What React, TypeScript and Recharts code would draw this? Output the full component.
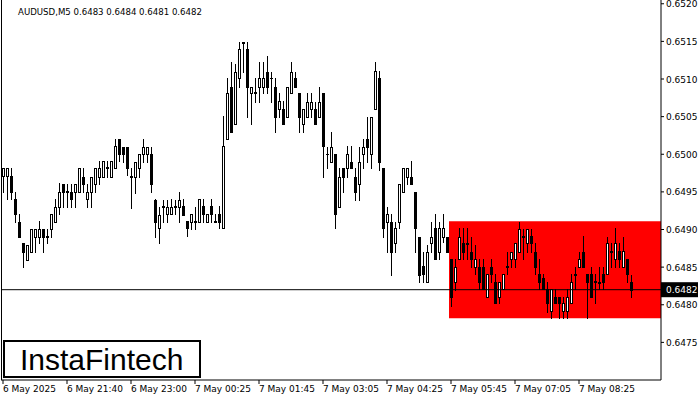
import React from "react";
import { Bar, ComposedChart, Customized, ReferenceArea, ReferenceLine, XAxis, YAxis } from "recharts";

// AUDUSD M5 candles (oldest first)
const opens = [
  0.64971, 0.64971, 0.64971, 0.64941, 0.6491, 0.64882, 0.64859, 0.6487, 0.6489, 0.6489, 0.64901, 0.6489, 0.64901, 0.6491, 0.6493, 0.64961,
  0.6495, 0.6495, 0.6495, 0.6495, 0.6497, 0.64941, 0.6495, 0.64961, 0.6497, 0.6497, 0.64982, 0.6497, 0.64982, 0.6502, 0.6501, 0.6501,
  0.6497, 0.6497, 0.64982, 0.65, 0.65, 0.65, 0.64939, 0.64902, 0.6493, 0.64921, 0.64921, 0.6493, 0.6493, 0.64931, 0.64911, 0.6491,
  0.6491, 0.6491, 0.64931, 0.6491, 0.64931, 0.6491, 0.64921, 0.64902, 0.6502, 0.6509, 0.6504, 0.65102, 0.65149, 0.6514, 0.65082, 0.65082,
  0.6509, 0.6509, 0.65109, 0.65102, 0.6509, 0.6506, 0.6506, 0.6505, 0.65082, 0.65102, 0.65082, 0.6504, 0.6505, 0.6506, 0.6506, 0.6505,
  0.65082, 0.65, 0.6499, 0.65, 0.6493, 0.64982, 0.64982, 0.6499, 0.6497, 0.64961, 0.65, 0.6502, 0.65, 0.6506, 0.65102, 0.64982,
  0.6491, 0.6491, 0.64882, 0.6491, 0.6495, 0.6497, 0.6497, 0.6495, 0.6489, 0.64851, 0.6483, 0.64882, 0.64902, 0.6487, 0.6489, 0.6489,
  0.64861, 0.6483, 0.64861, 0.64882, 0.64882, 0.6487, 0.6485, 0.6485, 0.6485, 0.6481, 0.6485, 0.6483, 0.6481, 0.64821, 0.6485, 0.64861,
  0.64861, 0.6487, 0.64891, 0.64882, 0.64891, 0.6487, 0.64841, 0.64835, 0.64821, 0.64792, 0.6481, 0.6481, 0.64792, 0.64792, 0.64802, 0.64841,
  0.6485, 0.6487, 0.64841, 0.64841, 0.6483, 0.6483, 0.64841, 0.64841, 0.64871, 0.64861, 0.64871, 0.6485, 0.64861, 0.6483,
];
const highs = [
  0.64982, 0.64982, 0.64982, 0.6495, 0.64921, 0.64882, 0.64879, 0.64901, 0.64901, 0.64911, 0.64901, 0.64901, 0.64921, 0.64941, 0.64962, 0.64961,
  0.64961, 0.64961, 0.64961, 0.64982, 0.64982, 0.64961, 0.6497, 0.64982, 0.64991, 0.64991, 0.64991, 0.64991, 0.6502, 0.6502, 0.6501, 0.6501,
  0.64982, 0.6499, 0.65, 0.6502, 0.6501, 0.6501, 0.64941, 0.6493, 0.64939, 0.64939, 0.64941, 0.64939, 0.6495, 0.64941, 0.64911, 0.64921,
  0.6493, 0.64941, 0.64941, 0.64921, 0.64941, 0.64921, 0.64931, 0.65051, 0.65102, 0.65122, 0.6512, 0.65149, 0.65149, 0.65149, 0.6509, 0.65102,
  0.65122, 0.65122, 0.65131, 0.65109, 0.65102, 0.65082, 0.65071, 0.6509, 0.65122, 0.65109, 0.65082, 0.6506, 0.65082, 0.65082, 0.65069, 0.6509,
  0.65082, 0.6501, 0.6503, 0.65, 0.64982, 0.64982, 0.65011, 0.65011, 0.64982, 0.6501, 0.6502, 0.6505, 0.6505, 0.65122, 0.65111, 0.64982,
  0.6493, 0.64921, 0.6491, 0.64961, 0.64982, 0.64982, 0.64991, 0.6495, 0.6489, 0.6487, 0.6488, 0.6491, 0.64921, 0.6491, 0.64921, 0.6489,
  0.64861, 0.64861, 0.64902, 0.64902, 0.64902, 0.6489, 0.6488, 0.64861, 0.64861, 0.64841, 0.64861, 0.64841, 0.6483, 0.64841, 0.6487, 0.6487,
  0.64882, 0.6491, 0.64901, 0.64901, 0.64901, 0.64882, 0.64861, 0.64841, 0.6483, 0.64821, 0.64821, 0.6481, 0.6481, 0.64821, 0.64841, 0.6485,
  0.6487, 0.64891, 0.64841, 0.6485, 0.64841, 0.6485, 0.6485, 0.6489, 0.64882, 0.64902, 0.64882, 0.6489, 0.64861, 0.6484,
];
const lows = [
  0.6495, 0.64941, 0.64941, 0.6491, 0.6489, 0.6485, 0.64859, 0.6487, 0.6487, 0.64882, 0.6487, 0.64882, 0.6489, 0.6491, 0.64921, 0.6493,
  0.6493, 0.6493, 0.6493, 0.6495, 0.6495, 0.6493, 0.6493, 0.6495, 0.64961, 0.6497, 0.6497, 0.6497, 0.64982, 0.64991, 0.6499, 0.64972,
  0.64929, 0.64949, 0.6497, 0.6499, 0.6499, 0.6495, 0.6489, 0.64882, 0.6491, 0.6491, 0.64921, 0.64921, 0.6491, 0.64919, 0.64891, 0.64901,
  0.64901, 0.6491, 0.6491, 0.6491, 0.6491, 0.6491, 0.64902, 0.64902, 0.6502, 0.6503, 0.6504, 0.6509, 0.65109, 0.6505, 0.6504, 0.65069,
  0.65069, 0.65082, 0.65082, 0.65069, 0.6503, 0.6505, 0.6504, 0.6505, 0.65082, 0.6509, 0.6503, 0.6503, 0.6505, 0.6505, 0.6504, 0.6505,
  0.6497, 0.64982, 0.6499, 0.64902, 0.6493, 0.6495, 0.6497, 0.64982, 0.64939, 0.64939, 0.64982, 0.6499, 0.64982, 0.6506, 0.64979, 0.6489,
  0.6487, 0.64839, 0.6487, 0.64902, 0.6495, 0.64961, 0.64961, 0.6487, 0.6483, 0.6483, 0.6483, 0.6487, 0.64861, 0.64861, 0.64883, 0.6487,
  0.64799, 0.64819, 0.64861, 0.64861, 0.64861, 0.6485, 0.64841, 0.64821, 0.64821, 0.6481, 0.6483, 0.64802, 0.64802, 0.64821, 0.64841, 0.6485,
  0.6485, 0.6487, 0.64861, 0.6487, 0.6487, 0.64841, 0.64821, 0.64821, 0.6479, 0.64782, 0.64802, 0.64782, 0.64782, 0.64782, 0.64802, 0.64821,
  0.6485, 0.6485, 0.64782, 0.6481, 0.64802, 0.64821, 0.64821, 0.64841, 0.6485, 0.6485, 0.6485, 0.6485, 0.6483, 0.6481,
];
const closes = [
  0.64982, 0.64982, 0.6495, 0.64921, 0.6489, 0.6487, 0.64879, 0.64901, 0.64901, 0.64901, 0.6489, 0.64891, 0.64921, 0.6493, 0.6495, 0.6495,
  0.64951, 0.64941, 0.64961, 0.64982, 0.64961, 0.6495, 0.6497, 0.64982, 0.64982, 0.64991, 0.64983, 0.64991, 0.65011, 0.65, 0.65, 0.64982,
  0.64971, 0.6499, 0.65, 0.6501, 0.6501, 0.64961, 0.6491, 0.64919, 0.64931, 0.6493, 0.6493, 0.64931, 0.64939, 0.64919, 0.64902, 0.64921,
  0.64911, 0.64941, 0.64921, 0.64921, 0.64921, 0.64911, 0.6491, 0.65011, 0.65082, 0.6503, 0.65109, 0.6514, 0.65148, 0.6509, 0.6509, 0.65083,
  0.65102, 0.65102, 0.6509, 0.65101, 0.6505, 0.65071, 0.6504, 0.6509, 0.65109, 0.6509, 0.6505, 0.6506, 0.65069, 0.65069, 0.6504, 0.65069,
  0.65011, 0.65001, 0.6501, 0.64921, 0.6497, 0.6497, 0.65, 0.64982, 0.6495, 0.6499, 0.6501, 0.6501, 0.6505, 0.65111, 0.6499, 0.64902,
  0.64921, 0.6487, 0.64902, 0.64961, 0.64982, 0.64982, 0.64961, 0.64902, 0.64839, 0.64841, 0.6487, 0.6489, 0.64861, 0.64902, 0.64902, 0.6487,
  0.6481, 0.6485, 0.6489, 0.6487, 0.64881, 0.64861, 0.64861, 0.6483, 0.64821, 0.64841, 0.64841, 0.64802, 0.6483, 0.64841, 0.64851, 0.6487,
  0.64882, 0.64901, 0.6489, 0.64901, 0.64882, 0.6485, 0.6483, 0.64821, 0.64802, 0.64821, 0.64802, 0.64802, 0.64802, 0.6481, 0.6483, 0.6484,
  0.64861, 0.6485, 0.6483, 0.6481, 0.64831, 0.64829, 0.6483, 0.64882, 0.6487, 0.64882, 0.64861, 0.64871, 0.64841, 0.6482,
];

const timeTickIndex = [0, 16, 32, 48, 64, 80, 96, 112, 128, 144];
const timeTickLabels = [
  "6 May 2025", "6 May 21:40", "6 May 23:00", "7 May 00:25", "7 May 01:45",
  "7 May 03:05", "7 May 04:25", "7 May 05:45", "7 May 07:05", "7 May 08:25",
];
const priceTicks = [0.6475, 0.648, 0.6485, 0.649, 0.6495, 0.65, 0.6505, 0.651, 0.6515, 0.652];

const lastPrice = 0.6482;
const patternStart = 112;
const patternTop = 0.64911;
const patternBottom = 0.64782;
const SLOTS = 165; // candles plus empty right shift

const FONT = "DejaVu Sans, Verdana, sans-serif";

const data = Array.from({ length: SLOTS }, (_, i) => ({
  i,
  o: opens[i] ?? null,
  h: highs[i] ?? null,
  l: lows[i] ?? null,
  c: closes[i] ?? null,
}));

function Candle(props: any) {
  const { x, y, width, height, payload } = props;
  if (!payload || payload.o == null) return null;
  const top = Math.min(y, y + height);
  const bottom = Math.max(y, y + height);
  const span = payload.h - payload.l;
  const py = (p: number) => (span > 0 ? top + ((payload.h - p) / span) * (bottom - top) : top);
  const cx = Math.floor(x + width / 2) + 0.5;
  const up = payload.c >= payload.o;
  const bTop = Math.round(py(Math.max(payload.o, payload.c)));
  const bBot = Math.round(py(Math.min(payload.o, payload.c)));
  return (
    <g>
      <line x1={cx} x2={cx} y1={Math.round(top)} y2={Math.round(bottom) + 1} stroke="#000" strokeWidth={1} />
      {bBot - bTop < 1 ? (
        <line x1={cx - 1.5} x2={cx + 1.5} y1={bTop + 0.5} y2={bTop + 0.5} stroke="#000" strokeWidth={1} />
      ) : (
        <rect x={cx - 1} y={bTop + 0.5} width={2} height={bBot - bTop} fill={up ? "#fff" : "#000"} stroke="#000" strokeWidth={1} />
      )}
    </g>
  );
}

function TimeTick(props: any) {
  const { x, y, payload } = props;
  const k = timeTickIndex.indexOf(payload.value);
  return (
    <text x={Math.floor(x)} y={y + 8} fontSize={9} fontFamily={FONT} fill="#000" textAnchor="start">
      {timeTickLabels[k]}
    </text>
  );
}

function PriceTick(props: any) {
  const { x, y, payload } = props;
  if (payload.value === lastPrice) {
    return (
      <g>
        <rect x={x - 5} y={y - 7.5} width={37} height={15} fill="#000" />
        <text x={x} y={y + 3.5} fontSize={9} fontFamily={FONT} fill="#fff">
          {payload.value.toFixed(4)}
        </text>
      </g>
    );
  }
  return (
    <text x={x} y={y + 3.5} fontSize={9} fontFamily={FONT} fill="#000">
      {payload.value.toFixed(4)}
    </text>
  );
}

function Overlay() {
  return (
    <g>
      <line x1={1.5} x2={1.5} y1={0} y2={380} stroke="#000" />
      <text x={18} y={15} fontSize={8.6} fontFamily={FONT} fill="#000">
        AUDUSD,M5  0.6483 0.6484 0.6481 0.6482
      </text>
      <rect x={4} y={341} width={196} height={36} fill="#fff" stroke="#000" strokeWidth={2} />
      <text x={20} y={370} fontSize={30} fontFamily="Liberation Sans, Arial, sans-serif" fill="#000">
        InstaFintech
      </text>
    </g>
  );
}

export default function App() {
  return (
    <div style={{ position: "absolute", left: 0, top: 0, width: 700, height: 400, background: "#fff" }}>
      <ComposedChart width={700} height={400} data={data} margin={{ top: 0, right: 0, bottom: 0, left: 1 }} barCategoryGap={0}>
        <XAxis
          dataKey="i"
          type="category"
          ticks={timeTickIndex}
          interval={0}
          height={20}
          tickSize={4}
          tickMargin={0}
          axisLine={{ stroke: "#000" }}
          tickLine={{ stroke: "#000" }}
          tick={<TimeTick />}
        />
        <YAxis
          orientation="right"
          type="number"
          domain={[0.647, 0.65205]}
          allowDataOverflow
          ticks={[...priceTicks, lastPrice]}
          interval={0}
          width={39}
          tickSize={3}
          tickMargin={2}
          axisLine={{ stroke: "#000" }}
          tickLine={{ stroke: "#000" }}
          tick={<PriceTick />}
        />
        <ReferenceArea
          x1={patternStart}
          x2={SLOTS - 1}
          y1={patternBottom}
          y2={patternTop}
          fill="#ff0000"
          fillOpacity={1}
          stroke="none"
          ifOverflow="visible"
        />
        <ReferenceLine y={lastPrice} stroke="#000" strokeWidth={1} />
        <Bar
          dataKey={(d: any) => (d.o == null ? null : [d.l, d.h])}
          shape={(p: any) => <Candle {...p} />}
          isAnimationActive={false}
        />
        <Customized component={Overlay} />
      </ComposedChart>
    </div>
  );
}
